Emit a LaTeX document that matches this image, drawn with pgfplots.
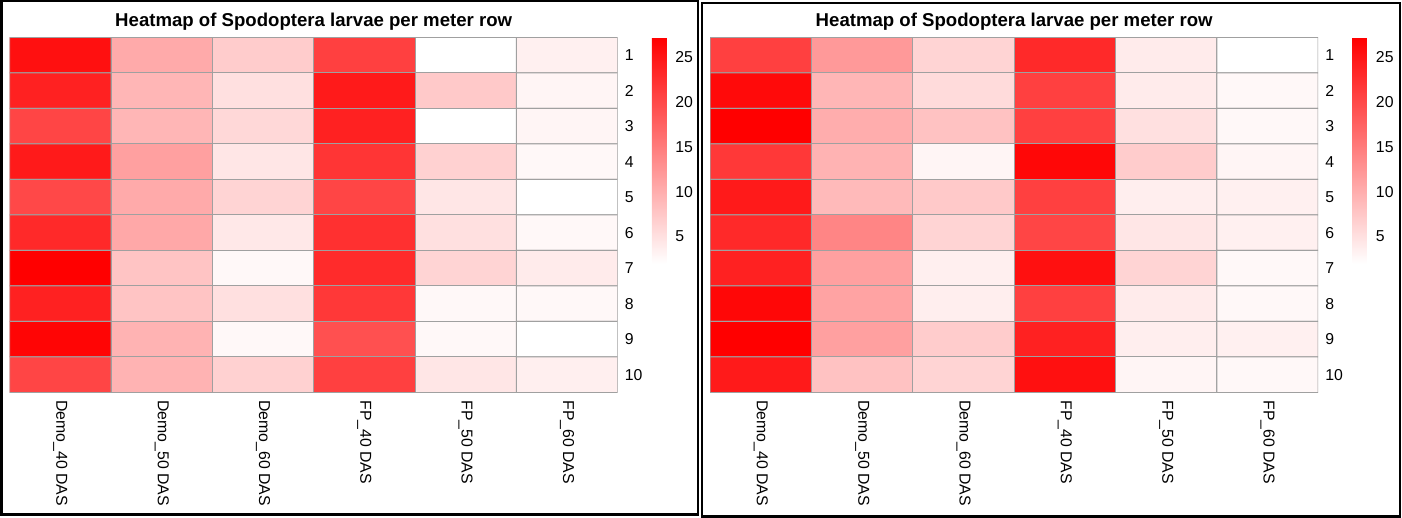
\documentclass[border=0pt]{standalone}
\usepackage{fontspec}
\setmainfont{Liberation Sans}
\usepackage{pgfplots}
\usepackage{pgfplotstable}
\pgfplotsset{compat=1.18}

\pgfplotstableread{
x y c
0 1 25.5
1 1 10.3
2 1 7
3 1 20.7
4 1 2
5 1 3.5
0 2 23.8
1 2 9.2
2 2 5
3 2 24.5
4 2 7.3
5 2 3
0 3 20.3
1 3 9.2
2 3 5.8
3 3 23.8
4 3 2
5 3 3
0 4 24.5
1 4 11.3
2 4 4.5
3 4 21.8
4 4 6.5
5 4 2.7
0 5 20
1 5 10.3
2 5 6.2
3 5 20.3
4 5 4.5
5 5 2
0 6 23
1 6 10.5
2 6 4.3
3 6 22.3
4 6 5
5 6 2.7
0 7 27
1 7 7.8
2 7 2.7
3 7 22.8
4 7 6.2
5 7 4
0 8 23.8
1 8 7.8
2 8 5
3 8 21.5
4 8 2.7
5 8 2.7
0 9 26.5
1 9 9.5
2 9 2.7
3 9 19.2
4 9 2.7
5 9 2
0 10 20.3
1 10 9.5
2 10 6.5
3 10 20.7
4 10 4.5
5 10 3.6
}\leftdata

\pgfplotstableread{
x y c
0 1 20.7
1 1 12
2 1 6.2
3 1 23
4 1 4
5 1 2
0 2 26
1 2 9.2
2 2 5.5
3 2 20.7
4 2 4
5 2 2.7
0 3 27
1 3 10
2 3 8
3 3 20.7
4 3 5
5 3 2.7
0 4 21.5
1 4 9.5
2 4 3
3 4 26.3
4 4 7
5 4 3
0 5 24.5
1 5 8.8
2 5 7.3
3 5 20.7
4 5 3.7
5 5 3.5
0 6 23
1 6 14
2 6 6.2
3 6 20.3
4 6 4.5
5 6 3.5
0 7 23.8
1 7 11.3
2 7 3.6
3 7 25.5
4 7 6.2
5 7 2.7
0 8 26.3
1 8 11
2 8 3.7
3 8 20.7
4 8 4
5 8 2.7
0 9 27
1 9 11.3
2 9 7
3 9 23.8
4 9 3.7
5 9 3.5
0 10 24.5
1 10 8
2 10 6.2
3 10 25.5
4 10 3
5 10 2.7
}\rightdata

\definecolor{cellgrid}{RGB}{160,160,160}

\pgfplotsset{
  heat/.style={
    scale only axis,
    width=304pt, height=177.5pt,
    xmin=-0.5, xmax=5.5, ymin=0.5, ymax=10.5,
    y dir=reverse,
    axis line style={draw=none},
    major tick length=0pt,
    xtick={0,...,5},
    xticklabels={Demo\_40 DAS,Demo\_50 DAS,Demo\_60 DAS,FP\_40 DAS,FP\_50 DAS,FP\_60 DAS},
    xticklabel style={rotate=-90, anchor=west, font=\fontsize{7.9}{9}\selectfont, xshift=0.5pt},
    ytick={1,...,10},
    yticklabel pos=right,
    yticklabel style={anchor=west, font=\fontsize{7.9}{9}\selectfont, xshift=0pt},
    /pgf/number format/assume math mode=true,
    colormap={wr}{rgb255=(255,255,255) rgb255=(255,0,0)},
    point meta min=2, point meta max=27.2,
    title={\bfseries Heatmap of Spodoptera larvae per meter row},
    title style={font=\fontsize{9.3}{11}\selectfont, yshift=-6pt},
    colorbar right,
    colorbar shift/.style={xshift=17.15pt},
    colorbar style={
      scale only axis,
      at={(parent axis.north east)}, anchor=north west,
      width=7.2pt, height=113pt,
      ytick={5,10,15,20,25},
      axis line style={draw=none},
      major tick length=0pt,
      yticklabel style={font=\fontsize{7.9}{9}\selectfont, xshift=1pt},
      /pgf/number format/assume math mode=true,
    },
  }
}

\begin{document}
\begin{tikzpicture}[x=0.5pt,y=0.5pt]
\path[use as bounding box] (0,0) rectangle (1402,518);
\draw[line width=1.1pt] (1.5,3.5) rectangle (698,517);
\draw[line width=1.1pt] (702,1.5) rectangle (1400,515);

\begin{axis}[heat, at={(4.85pt,240.25pt)}, anchor=north west]
\addplot[matrix plot, mesh/cols=6, point meta=explicit, draw=cellgrid, line width=0.5pt]
  table[x=x, y=y, meta=c] {\leftdata};
\end{axis}

\begin{axis}[heat, at={(355.1pt,240.25pt)}, anchor=north west]
\addplot[matrix plot, mesh/cols=6, point meta=explicit, draw=cellgrid, line width=0.5pt]
  table[x=x, y=y, meta=c] {\rightdata};
\end{axis}
\end{tikzpicture}
\end{document}
